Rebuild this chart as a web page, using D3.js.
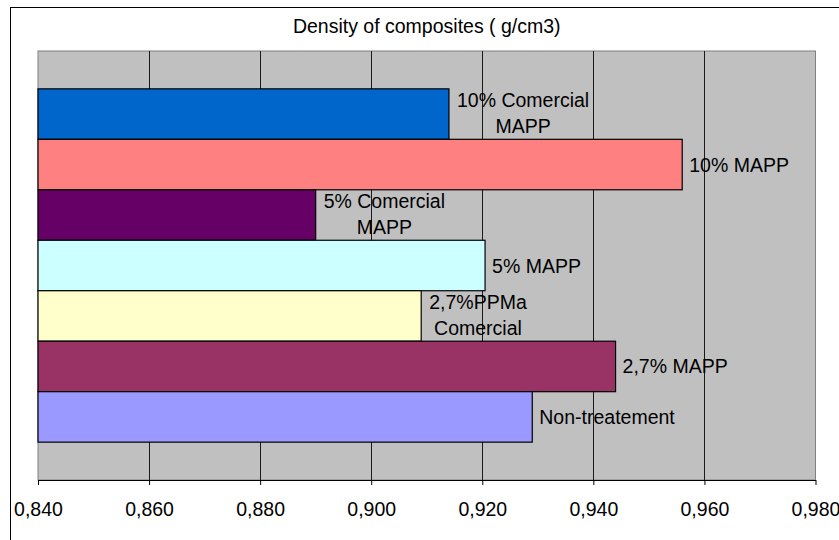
<!DOCTYPE html>
<html>
<head>
<meta charset="utf-8">
<script src="https://cdn.jsdelivr.net/npm/d3@7"></script>
<style>
  html, body { margin: 0; padding: 0; background: #ffffff; }
  svg { display: block; }
  text { font-family: Arial, "Liberation Sans", sans-serif; fill: #000; }
</style>
</head>
<body>
<script>
// Composite formulations, listed top to bottom
const categories = [
  "10% Comercial MAPP",
  "10% MAPP",
  "5% Comercial MAPP",
  "5% MAPP",
  "2,7%PPMa Comercial",
  "2,7% MAPP",
  "Non-treatement"
];
// Data label lines shown beside each bar
const labelLines = [
  ["10% Comercial", "MAPP"],
  ["10% MAPP"],
  ["5% Comercial", "MAPP"],
  ["5% MAPP"],
  ["2,7%PPMa", "Comercial"],
  ["2,7% MAPP"],
  ["Non-treatement"]
];
// Density in g/cm3
const densities = [0.914, 0.956, 0.890, 0.9205, 0.909, 0.944, 0.929];
const barColors = ["#0066CC", "#FF8080", "#660066", "#CCFFFF", "#FFFFCC", "#993366", "#9999FF"];
const tickValues = [0.84, 0.86, 0.88, 0.90, 0.92, 0.94, 0.96, 0.98];
const titleText = "Density of composites ( g/cm3)";

const W = 839, H = 540;
const plot = { left: 38, right: 815.5, top: 51, bottom: 480 };

const svg = d3.select("body").append("svg")
  .attr("width", W).attr("height", H);

// chart frame
svg.append("rect")
  .attr("x", 10.5).attr("y", 7.5)
  .attr("width", W + 20).attr("height", H + 20)
  .attr("fill", "#fff").attr("stroke", "#000").attr("stroke-width", 1);

const x = d3.scaleLinear().domain([0.84, 0.98]).range([plot.left, plot.right]);
const y = d3.scaleBand().domain(categories)
  .range([plot.top, plot.bottom])
  .paddingInner(0).paddingOuter(0.75);

// plot area
svg.append("rect")
  .attr("x", plot.left).attr("y", plot.top)
  .attr("width", plot.right - plot.left).attr("height", plot.bottom - plot.top)
  .attr("fill", "#C0C0C0").attr("stroke", "#808080").attr("stroke-width", 1);

// vertical gridlines
svg.append("g").selectAll("line")
  .data(tickValues.slice(1, -1))
  .join("line")
  .attr("x1", d => Math.round(x(d)) + 0.5).attr("x2", d => Math.round(x(d)) + 0.5)
  .attr("y1", plot.top).attr("y2", plot.bottom)
  .attr("stroke", "#1a1a1a").attr("stroke-width", 1);

// bars
svg.append("g").selectAll("rect")
  .data(categories)
  .join("rect")
  .attr("x", x(0.84))
  .attr("y", d => y(d))
  .attr("width", (d, i) => x(densities[i]) - x(0.84))
  .attr("height", y.bandwidth())
  .attr("fill", (d, i) => barColors[i])
  .attr("stroke", "#000").attr("stroke-width", 1.2);

// data labels
const fs = 19.5;
const lineGap = 26;
const labels = svg.append("g").style("font-size", fs + "px");
categories.forEach((c, i) => {
  const lines = labelLines[i];
  const cy = y(c) + y.bandwidth() / 2;
  const xe = x(densities[i]);
  const g = labels.append("g");
  const texts = lines.map((ln, k) => g.append("text")
    .attr("y", cy + (k - (lines.length - 1) / 2) * lineGap - (lines.length - 1))
    .attr("dominant-baseline", "central")
    .text(ln));
  const maxW = d3.max(texts, t => t.node().getComputedTextLength());
  if (lines.length === 1) {
    texts[0].attr("x", xe + 7);
  } else {
    texts.forEach(t => t.attr("x", xe + 8 + maxW / 2).attr("text-anchor", "middle"));
  }
});

// x axis with comma decimals
const fmt = d => d3.format(".3f")(d).replace(".", ",");
const axis = d3.axisBottom(x)
  .tickValues(tickValues)
  .tickFormat(fmt)
  .tickSize(5)
  .tickSizeOuter(0)
  .tickPadding(17.5);
const gx = svg.append("g")
  .attr("transform", `translate(0,${plot.bottom})`)
  .call(axis);
gx.select(".domain").attr("stroke", "#000");
gx.selectAll(".tick line").attr("stroke", "#000");
gx.selectAll(".tick text")
  .style("font-size", fs + "px")
  .style("font-family", "Arial, 'Liberation Sans', sans-serif")
  .attr("fill", "#000");

// title
svg.append("text")
  .attr("x", (plot.left + plot.right) / 2)
  .attr("y", 32.7)
  .attr("text-anchor", "middle")
  .style("font-size", fs + "px")
  .text(titleText);
</script>
</body>
</html>
